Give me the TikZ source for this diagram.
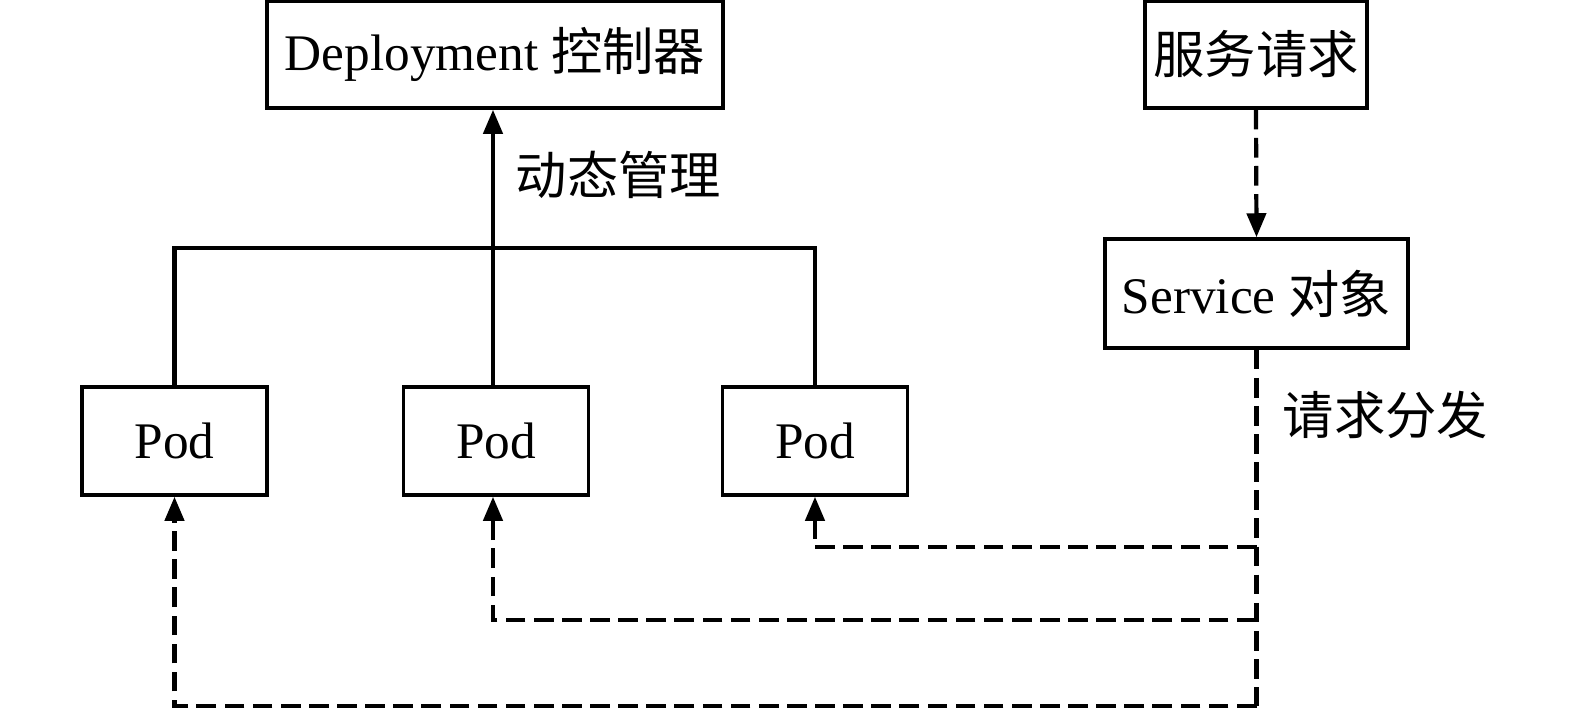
\documentclass[tikz,border=0pt]{standalone}
\usepackage{fontspec}
\setmainfont{Liberation Serif}
\newfontfamily\cjk{Noto Sans CJK SC}
\usetikzlibrary{arrows.meta}
\tikzset{
  box/.style={draw, line width=1pt, inner sep=0pt, font=\fontsize{14.6}{17}\selectfont},
  podbox/.style={box, minimum width=1.85cm, minimum height=1.08cm},
  link/.style={line width=1.2pt},
  dashlink/.style={line width=1.2pt, dash pattern=on 5.6pt off 2.4pt},
  tip/.style={-{Triangle[length=0.24cm, width=0.19cm]}},
  lbl/.style={anchor=west, inner sep=0pt, font=\fontsize{14.6}{17}\selectfont\cjk}
}
\begin{document}
\begin{tikzpicture}
  \useasboundingbox (0,0) rectangle (15.75,7.12);
  % Top boxes
  \node[box, minimum width=4.56cm, minimum height=1.07cm] (dep) at (4.95,6.575) {Deployment {\cjk 控制器}};
  \node[box, minimum width=2.22cm, minimum height=1.07cm] (req) at (12.56,6.575) {\cjk 服务请求};
  \node[box, minimum width=3.03cm, minimum height=1.09cm] (svc) at (12.565,4.185) {Service {\cjk 对象}};
  % Pods
  \node[podbox] (pod1) at (1.745,2.71) {Pod};
  \node[podbox] (pod2) at (4.96,2.71) {Pod};
  \node[podbox] (pod3) at (8.15,2.71) {Pod};
  % Management lines
  \coordinate (bus1) at (pod1.north |- 0,4.64);
  \coordinate (bus3) at (pod3.north |- 0,4.64);
  \draw[link] (pod1.north) -- (bus1) -- (bus3) -- (pod3.north);
  \draw[link, tip] ([xshift=-0.03cm]pod2.north) -- ([xshift=-0.03cm]pod2.north |- dep.south);
  \node[lbl] (mgmt) at (5.15,5.37) {动态管理};
  % Request path
  \draw[dashlink, tip] (req.south) -- (svc.north);
  \coordinate (end) at (svc.south |- 0,0.06);
  \draw[dashlink] (svc.south) -- (end);
  \node[lbl] (dist) at (12.82,2.97) {请求分发};
  % Branches to pods
  \coordinate (br3) at (svc.south |- 0,1.65);
  \coordinate (br2) at (svc.south |- 0,0.92);
  \draw[dashlink, tip] (br3) -- (pod3.south |- br3) -- (pod3.south);
  \draw[dashlink, tip] (br2) -- ([xshift=-0.03cm]pod2.south |- br2) -- ([xshift=-0.03cm]pod2.south);
  \draw[dashlink, tip] (end) -- (pod1.south |- end) -- (pod1.south);
\end{tikzpicture}
\end{document}
